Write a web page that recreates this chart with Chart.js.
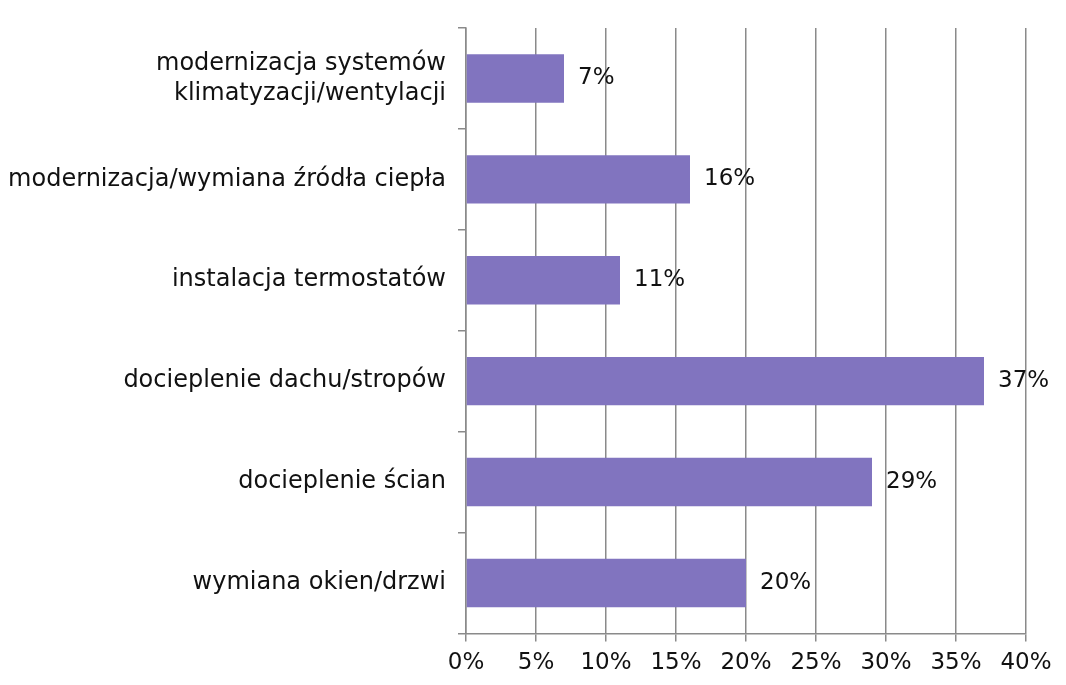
<!DOCTYPE html>
<html>
<head>
<meta charset="utf-8">
<script src="https://cdn.jsdelivr.net/npm/chart.js@4"></script>
<style>
  html, body { margin: 0; padding: 0; background: #fff; }
  #wrap { width: 1066px; height: 685px; }
</style>
</head>
<body>
<div id="wrap"><canvas id="chart"></canvas></div>
<script>
const categories = [
  ['modernizacja systemów', 'klimatyzacji/wentylacji'],
  'modernizacja/wymiana źródła ciepła',
  'instalacja termostatów',
  'docieplenie dachu/stropów',
  'docieplenie ścian',
  'wymiana okien/drzwi'
];
const shares = [7, 16, 11, 37, 29, 20];
const xTicks = [0, 5, 10, 15, 20, 25, 30, 35, 40];

const barColor = '#8174bf';
const gridColor = '#8a8a8a';
const font = "'DejaVu Sans', Verdana, sans-serif";

// write the value right of each bar
const valueLabels = {
  id: 'valueLabels',
  afterDatasetsDraw(chart) {
    const ctx = chart.ctx;
    const meta = chart.getDatasetMeta(0);
    ctx.save();
    ctx.fillStyle = '#111';
    ctx.font = '23px ' + font;
    ctx.textAlign = 'left';
    ctx.textBaseline = 'middle';
    meta.data.forEach((bar, i) => {
      ctx.fillText(shares[i] + '%', bar.x + 14, bar.y);
    });
    ctx.restore();
  }
};

new Chart(document.getElementById('chart'), {
  type: 'bar',
  data: {
    labels: categories,
    datasets: [{
      data: shares,
      backgroundColor: barColor,
      borderWidth: 0,
      barPercentage: 0.48,
      categoryPercentage: 1
    }]
  },
  options: {
    indexAxis: 'y',
    responsive: true,
    maintainAspectRatio: false,
    animation: false,
    layout: { padding: { left: 4, right: 40, top: 28, bottom: 0 } },
    plugins: {
      legend: { display: false },
      tooltip: { enabled: false }
    },
    scales: {
      x: {
        min: 0,
        max: 40,
        afterBuildTicks(scale) {
          scale.ticks = xTicks.map(v => ({ value: v }));
        },
        ticks: {
          callback: v => v + '%',
          color: '#111',
          font: { family: font, size: 23 },
          padding: 8,
          maxRotation: 0
        },
        grid: {
          color: gridColor,
          lineWidth: 1.5,
          tickLength: 8
        },
        border: { color: gridColor, width: 1.5 }
      },
      y: {
        afterFit(scale) { scale.width = 462; },
        ticks: {
          color: '#111',
          font: { family: font, size: 24, lineHeight: 1.25 },
          padding: 12
        },
        grid: {
          offset: true,
          drawOnChartArea: false,
          color: gridColor,
          lineWidth: 1.5,
          tickLength: 8
        },
        border: { color: gridColor, width: 1.5 }
      }
    }
  },
  plugins: [valueLabels]
});
</script>
</body>
</html>
